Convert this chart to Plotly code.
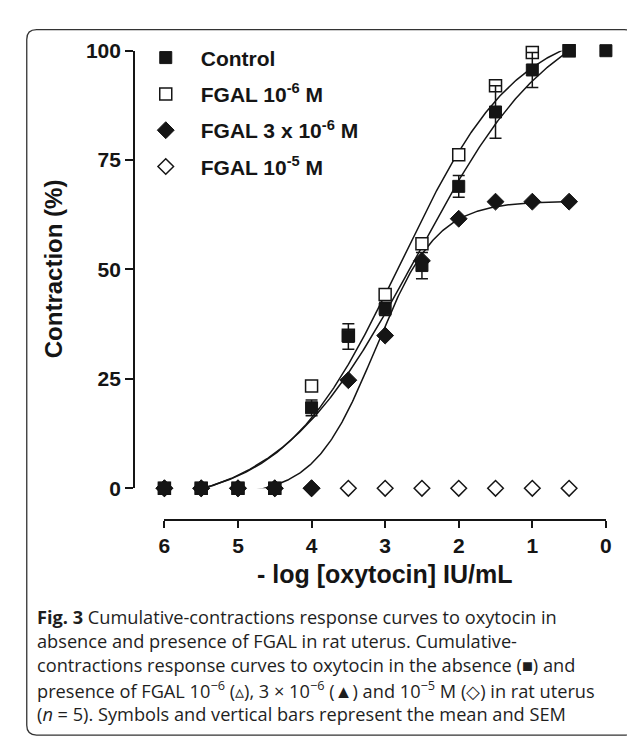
import numpy as np
import plotly.graph_objects as go

W, H = 635, 740

# ---------------- data ----------------
log_dose = [6, 5.5, 5, 4.5, 4, 3.5, 3, 2.5, 2, 1.5, 1, 0.5]
log_dose_control = [6, 5.5, 5, 4.5, 4, 3.5, 3, 2.5, 2, 1.5, 1, 0.5, 0]
control = [0, 0, 0, 0, 18.4, 34.7, 41.0, 50.9, 69.0, 86.0, 95.6, 100, 100]
control_sem = [0, 0, 0, 0, 1.8, 2.9, 1.5, 3.0, 2.5, 6.0, 4.0, 0.5, 0]
fgal_1e6 = [0, 0, 0, 0, 23.4, 35.0, 44.3, 55.9, 76.2, 92.0, 99.6, 100]
fgal_3e6 = [0, 0, 0, 0, 0, 24.7, 34.9, 52.0, 61.6, 65.5, 65.5, 65.5]
fgal_1e5 = [0, 0, 0, 0, 0, 0, 0, 0, 0, 0, 0, 0]

x_ticks = [6, 5, 4, 3, 2, 1, 0]
y_ticks = [0, 25, 50, 75, 100]

# fitted sigmoidal curves (bottom, top, x at midpoint, Hill slope)
fit_control = (-5.08, 111.36, 2.570, 0.465)
fit_1e6 = (-3.49, 106.51, 2.790, 0.550)
fit_3e6 = (-1.72, 65.64, 3.130, 1.045)
fit_x_range = (6, 0.4)


def curve(p, xs):
    B, T, x50, h = p
    return B + (T - B) / (1 + 10 ** (h * (xs - x50)))


cx = np.linspace(fit_x_range[0], fit_x_range[1], 400)

INK = "#151515"
FONT = "Liberation Sans, Arial, sans-serif"

fig = go.Figure()

for p in (fit_1e6, fit_control, fit_3e6):
    fig.add_trace(go.Scatter(x=cx, y=curve(p, cx), mode="lines",
                             line=dict(color=INK, width=1.5),
                             showlegend=False, hoverinfo="skip"))

fig.add_trace(go.Scatter(
    x=log_dose, y=fgal_1e5, mode="markers", name="FGAL 10<sup>-5</sup> M",
    legendrank=4, legendgroup="d",
    marker=dict(symbol="diamond", size=12, color="white", line=dict(color=INK, width=1.5)),
    cliponaxis=False))
fig.add_trace(go.Scatter(
    x=log_dose, y=fgal_1e6, mode="markers", name="FGAL 10<sup>-6</sup> M",
    legendrank=2, legendgroup="b",
    marker=dict(symbol="square", size=12, color="white", line=dict(color=INK, width=1.5)),
    cliponaxis=False))
fig.add_trace(go.Scatter(
    x=log_dose, y=fgal_3e6, mode="markers", name="FGAL 3 x 10<sup>-6</sup> M",
    legendrank=3, legendgroup="c",
    marker=dict(symbol="diamond", size=13, color=INK, line=dict(color=INK, width=1)),
    cliponaxis=False))
fig.add_trace(go.Scatter(
    x=log_dose_control, y=control, mode="markers", name="Control",
    legendrank=1, legendgroup="a",
    error_y=dict(type="data", array=control_sem, visible=True, color=INK, thickness=1.5, width=6),
    marker=dict(symbol="square", size=12, color=INK, line=dict(color=INK, width=1)),
    cliponaxis=False))

# geometry (pixels -> paper)
x6_px, x0_px = 153.3, 603.3
y100_px, y0_px = 31.7, 483.3
yaxis_px = 122.2
xaxis_py = 516.0

fig.update_layout(
    width=W, height=H,
    margin=dict(l=0, r=0, t=0, b=0),
    paper_bgcolor="white", plot_bgcolor="white",
    font=dict(family=FONT, color=INK),
    xaxis=dict(domain=[x6_px / W, x0_px / W], range=[6, 0], anchor="free",
               position=1 - xaxis_py / H, tickvals=x_ticks,
               ticktext=[str(v) for v in x_ticks],
               showline=True, linecolor=INK, linewidth=1.5,
               ticks="outside", ticklen=7, tickwidth=1.5, tickcolor=INK,
               tickfont=dict(size=21, family=FONT, weight="bold", color=INK),
               showgrid=False, zeroline=False),
    yaxis=dict(domain=[1 - y0_px / H, 1 - y100_px / H], range=[0, 100], anchor="free",
               position=yaxis_px / W, tickvals=y_ticks,
               ticktext=[str(v) for v in y_ticks],
               showline=True, linecolor=INK, linewidth=1.5,
               ticks="outside", ticklen=8, tickwidth=1.5, tickcolor=INK,
               tickfont=dict(size=21, family=FONT, weight="bold", color=INK),
               showgrid=False, zeroline=False),
    legend=dict(x=119 / W, y=1 - 18 / H, xanchor="left", yanchor="top",
                bgcolor="rgba(0,0,0,0)", borderwidth=0, itemwidth=60,
                tracegroupgap=6, traceorder="grouped",
                font=dict(size=21, family=FONT, weight="bold", color=INK)),
    showlegend=True,
)

ann = []
ann.append(dict(text="- log [oxytocin] IU/mL", x=(x6_px + x0_px) / 2 / W, y=1 - 572 / H,
                xref="paper", yref="paper", showarrow=False, xanchor="center", yanchor="middle",
                font=dict(size=25, family=FONT, weight="bold", color=INK)))
ann.append(dict(text="Contraction (%)", x=40 / W, y=1 - 257 / H, textangle=-90,
                xref="paper", yref="paper", showarrow=False, xanchor="center", yanchor="middle",
                font=dict(size=24, family=FONT, weight="bold", color=INK)))

caption = [
    "<b>Fig. 3</b> Cumulative-contractions response curves to oxytocin in",
    "absence and presence of FGAL in rat uterus. Cumulative-",
    "contractions response curves to oxytocin in the absence (■) and",
    "presence of FGAL 10<sup>−6</sup> (▵), 3 × 10<sup>−6</sup> (▲) and 10<sup>−5</sup> M (◇) in rat uterus",
    "(<i>n</i> = 5). Symbols and vertical bars represent the mean and SEM",
]
cap_y = [616, 641, 666, 691, 716]
for t, yy in zip(caption, cap_y):
    ann.append(dict(text=t, x=21 / W, y=1 - yy / H, xref="paper", yref="paper",
                    showarrow=False, xanchor="left", yanchor="middle", align="left",
                    font=dict(size=18.2, family="Open Sans, sans-serif", color="#1e1e1e")))
fig.update_layout(annotations=ann)

# rounded border
x0b, y0b, x1b, y1b, r = 13, 10, 632, 738, 10
X = lambda v: v / W
Y = lambda v: 1 - v / H
path = (f"M {X(x0b + r)},{Y(y0b)} L {X(x1b - r)},{Y(y0b)} Q {X(x1b)},{Y(y0b)} {X(x1b)},{Y(y0b + r)} "
        f"L {X(x1b)},{Y(y1b - r)} Q {X(x1b)},{Y(y1b)} {X(x1b - r)},{Y(y1b)} "
        f"L {X(x0b + r)},{Y(y1b)} Q {X(x0b)},{Y(y1b)} {X(x0b)},{Y(y1b - r)} "
        f"L {X(x0b)},{Y(y0b + r)} Q {X(x0b)},{Y(y0b)} {X(x0b + r)},{Y(y0b)} Z")
fig.add_shape(type="path", path=path, xref="paper", yref="paper",
              line=dict(color="#333333", width=1.3), layer="below")

fig.write_html("out.html")
